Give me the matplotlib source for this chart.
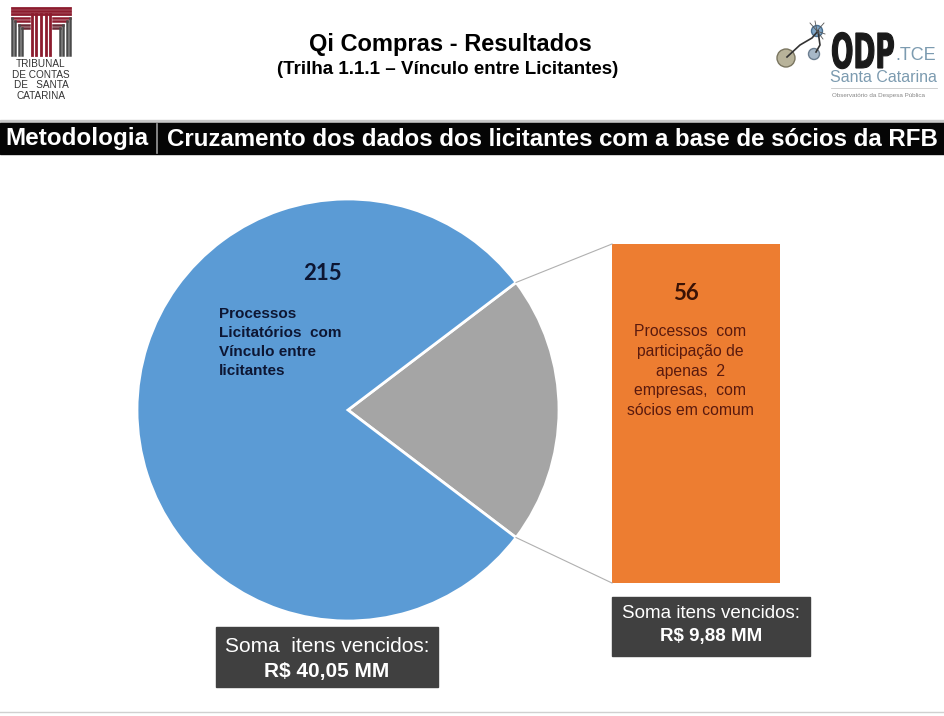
import numpy as np
import matplotlib
matplotlib.use('Agg')
import matplotlib.pyplot as plt
from matplotlib.patches import Rectangle, Circle, PathPatch
from matplotlib.textpath import TextPath
from matplotlib.font_manager import FontProperties
from matplotlib.transforms import Affine2D

# Data
slice_labels = ['Vínculo entre licitantes', 'Apenas 2 empresas']
slice_values = [215, 56]
slice_colors = ['#5b9bd5', '#a5a5a5']
bar_value = 56
totals = ['R$ 40,05 MM', 'R$ 9,88 MM']

title = 'Qi Compras - Resultados'
subtitle = '(Trilha 1.1.1 – Vínculo entre Licitantes)'
header_left = 'Metodologia'
header_right = 'Cruzamento dos dados dos licitantes com a base de sócios da RFB'
pie_text = 'Processos\nLicitatórios  com\nVínculo entre\nlicitantes'
bar_text = 'Processos  com\nparticipação de\napenas  2\nempresas,  com\nsócios em comum'

W, H = 944, 716
fig = plt.figure(figsize=(W / 100, H / 100), dpi=100)
ax = fig.add_axes([0, 0, 1, 1])

# Pie (grey slice centred on 0 degrees)
cx, cy, r = 348, 410, 211
frac = slice_values[1] / sum(slice_values)
half = frac * 180
ax.pie([slice_values[1], slice_values[0]], colors=[slice_colors[1], slice_colors[0]],
       startangle=-half, center=(cx, cy), radius=r,
       wedgeprops=dict(edgecolor='white', linewidth=2))

ax.set_xlim(0, W)
ax.set_ylim(H, 0)
ax.set_aspect('auto')
ax.axis('off')

# Orange bar
bx0, bx1, by0, by1 = 612, 780, 244, 583
ax.bar((bx0 + bx1) / 2, by1 - by0, bottom=by0, width=bx1 - bx0, color='#ed7d31')

# connector lines
a = np.deg2rad(half)
ax.plot([cx + r * np.cos(a), bx0], [cy - r * np.sin(a), by0], color='#b0b0b0', lw=0.8)
ax.plot([cx + r * np.cos(a), bx0], [cy + r * np.sin(a), by1], color='#b0b0b0', lw=0.8)

# Pie labels
ax.text(322, 274, str(slice_values[0]), fontsize=16, fontweight='bold', family='Lato',
        color='#0d1633', ha='center', va='center')
ax.text(219, 307, pie_text, fontsize=11, fontweight='bold', family='Liberation Sans',
        color='#0d1633', ha='left', va='top', linespacing=1.45)

ax.text(686, 293, str(bar_value), fontsize=16, fontweight='bold', family='Lato',
        color='#3a1205', ha='center', va='center')
ax.text(690, 324, bar_text, fontsize=11.3, family='Liberation Sans',
        color='#5a1a0e', ha='center', va='top', linespacing=1.4)

# Sum boxes
ax.add_patch(Rectangle((216, 627), 222, 60, color='#404040'))
ax.text(327, 646, 'Soma  itens vencidos:', fontsize=15, family='Liberation Sans',
        color='white', ha='center', va='center')
ax.text(327, 671, totals[0], fontsize=15, fontweight='bold', family='Liberation Sans',
        color='white', ha='center', va='center')

ax.add_patch(Rectangle((612, 597), 198, 59, color='#404040'))
ax.text(711, 613, 'Soma itens vencidos:', fontsize=13.5, family='Liberation Sans',
        color='white', ha='center', va='center')
ax.text(711, 636, totals[1], fontsize=13.5, fontweight='bold', family='Liberation Sans',
        color='white', ha='center', va='center')

# Title
ax.text(450, 44, title, fontsize=17, fontweight='bold', family='Liberation Sans',
        ha='center', va='center')
ax.text(448, 69, subtitle, fontsize=13.5, fontweight='bold', family='Liberation Sans',
        ha='center', va='center')

# Header bar
ax.add_patch(Rectangle((0, 120), W, 3, color='#c8c8c8'))
ax.add_patch(Rectangle((0, 123), W, 31, color='#050505'))
ax.plot([157, 157], [124, 153], color='#9a9a9a', lw=1.2)
ax.text(5, 139, header_left, fontsize=17.5, fontweight='bold', family='Liberation Sans',
        color='white', ha='left', va='center')
ax.text(938, 139, header_right, fontsize=17.3, fontweight='bold', family='Liberation Sans',
        color='white', ha='right', va='center')

# TCE logo (simplified)
red, grey = '#8c1c2e', '#4a4a4a'
for y in [8, 11, 14]:
    ax.plot([12, 70], [y, y], color=red, lw=2)
for x in [32, 36, 41, 46, 50]:
    ax.plot([x, x], [14, 55], color=red, lw=2)
for i in range(4):
    xl, xr, y = 12 + i * 3.4, 70 - i * 3.4, 18 + i * 3.4
    c = red if i < 2 else '#6a2a35'
    ax.plot([xl, 29], [y, y], color=c, lw=1.8)
    ax.plot([53, xr], [y, y], color=c, lw=1.8)
    ax.plot([xl, xl], [y, 55], color=grey, lw=1.8)
    ax.plot([xr, xr], [y, 55], color=grey, lw=1.8)
ax.text(41, 80, 'TRIBUNAL\nDE CONTAS\nDE   SANTA\nCATARINA', fontsize=7.2,
        family='Liberation Sans', color='#333333', ha='center', va='center',
        linespacing=1.1)

# ODP logo (simplified)
ax.plot([787, 800, 812, 818], [57, 45, 38, 31], color='#333333', lw=1.2)
ax.plot([818, 820, 816], [31, 45, 52], color='#333333', lw=1.2)
ax.add_patch(Circle((786, 58), 9, color='#b8b39a', ec='#7a7560'))
ax.add_patch(Circle((817, 31), 5.5, color='#7fa6c8', ec='#4a6e8e'))
ax.add_patch(Circle((814, 54), 5.5, color='#a7b8c8', ec='#6c7e90'))
for dx, dy in [(-7, -8), (7, -8), (8, 3), (-2, -10), (6, 8)]:
    ax.plot([817, 817 + dx], [31, 31 + dy], color='#555555', lw=0.6)
odp = TextPath((0, 0), 'ODP', size=48,
               prop=FontProperties(family='DejaVu Sans', weight='bold'))
odp = odp.transformed(Affine2D().scale(0.55, -1).translate(831, 68))
ax.add_patch(PathPatch(odp, facecolor='#1a1a1a', edgecolor='#1a1a1a', lw=0.8))
ax.text(895, 56, '.TCE', fontsize=13, family='Liberation Sans', color='#7c9bb0',
        ha='left', va='center')
ax.text(830, 78, 'Santa Catarina', fontsize=11.5, family='Liberation Sans',
        color='#7c9bb0', ha='left', va='center')
ax.plot([831, 937], [88, 88], color='#c8c8c8', lw=0.6)
ax.text(832, 95, 'Observatório da Despesa Pública', fontsize=4.5,
        family='Liberation Sans', color='#888888', ha='left', va='center')

# bottom rule
ax.plot([0, W], [712, 712], color='#d0d0d0', lw=1)

fig.savefig('out.png', dpi=100)
